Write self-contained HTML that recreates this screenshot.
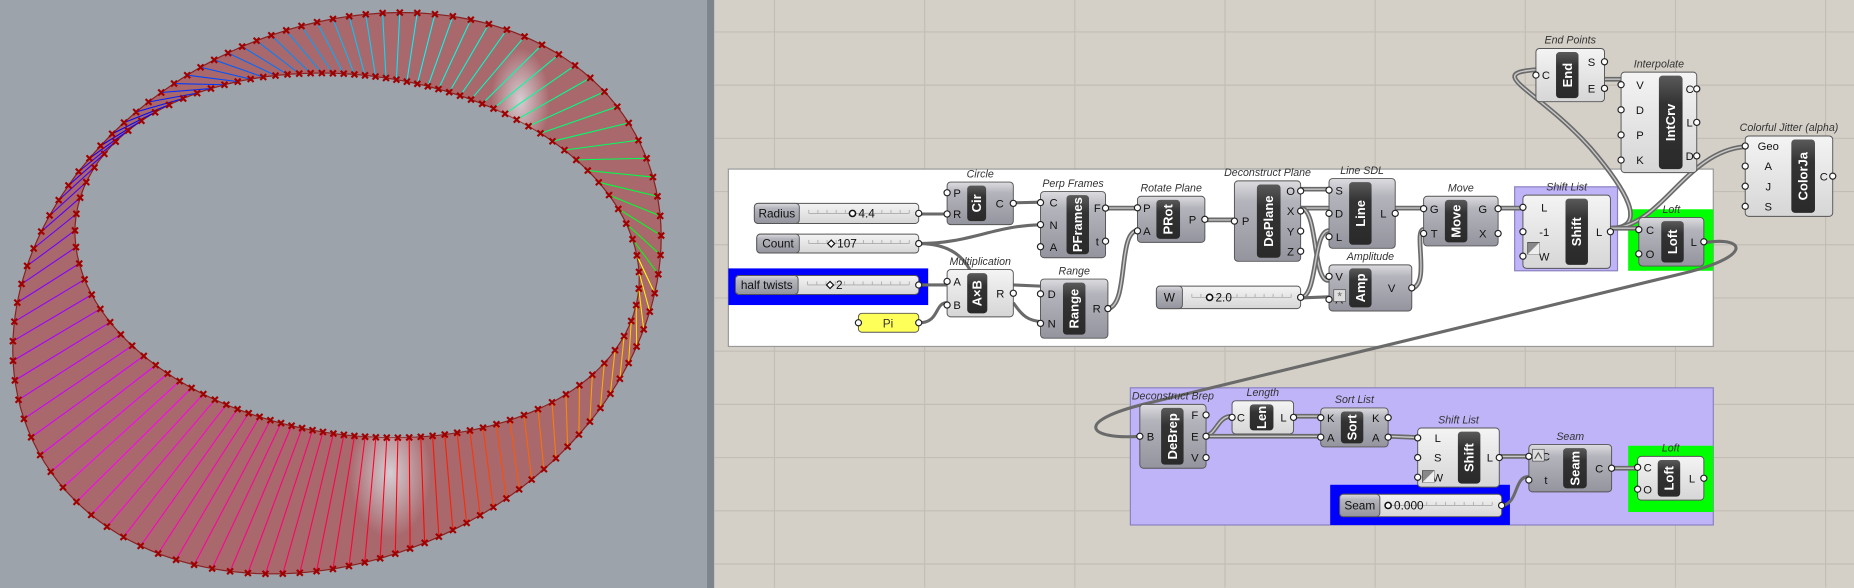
<!DOCTYPE html>
<html><head><meta charset="utf-8"><style>
html,body{margin:0;padding:0;width:1854px;height:588px;overflow:hidden;background:#d4d0c8}
svg{display:block}
text{font-family:"Liberation Sans","DejaVu Sans",sans-serif}
</style></head><body>
<svg id="s" width="1854" height="588" viewBox="0 0 1568 497.3" preserveAspectRatio="none" xmlns="http://www.w3.org/2000/svg">
<defs>
<linearGradient id="cg" x1="0" y1="0" x2="0" y2="1"><stop offset="0" stop-color="#dcdce0"/><stop offset="0.25" stop-color="#b4b4bc"/><stop offset="1" stop-color="#94949e"/></linearGradient>
<linearGradient id="lg" x1="0" y1="0" x2="0" y2="1"><stop offset="0" stop-color="#f4f4f4"/><stop offset="1" stop-color="#d6d6d6"/></linearGradient>
<linearGradient id="bg" x1="0" y1="0" x2="0" y2="1"><stop offset="0" stop-color="#5a5a5a"/><stop offset="0.3" stop-color="#333"/><stop offset="1" stop-color="#2a2a2a"/></linearGradient>
<radialGradient id="hl1" cx="0.5" cy="0.5" r="0.5"><stop offset="0" stop-color="#e0e6ec" stop-opacity="0.8"/><stop offset="1" stop-color="#e0e6ec" stop-opacity="0"/></radialGradient>
<clipPath id="bandclip"><path id="bandpath"/></clipPath>
</defs>
<rect x="0" y="0" width="603" height="497.3" fill="#9ca3ab"/>
<rect x="598" y="0" width="6" height="497.3" fill="#7e848c"/>
<g id="grid"></g>
<g id="mob"></g>
<g id="dia"></g>
</svg>
<script>
var NS="http://www.w3.org/2000/svg";
function el(p,t,a,txt){var e=document.createElementNS(NS,t);for(var k in a)e.setAttribute(k,a[k]);if(txt!==undefined)e.textContent=txt;p.appendChild(e);return e;}
var G=document.getElementById('grid');
for(var x=655;x<1568;x+=127)el(G,'line',{x1:x,y1:0,x2:x,y2:497,stroke:'#c2beb6','stroke-width':1});
for(var y=27;y<497;y+=45)el(G,'line',{x1:604,y1:y,x2:1568,y2:y,stroke:'#c2beb6','stroke-width':1});
var M=document.getElementById('mob');
var N=107;
var OE={cx:285,cy:248,a:286,b:223,p:-27*Math.PI/180};
var IE={cx:302,cy:216,a:240,b:152,p:8*Math.PI/180};
function polar(E,th){var d=th-E.p;var r=1/Math.sqrt(Math.pow(Math.cos(d)/E.a,2)+Math.pow(Math.sin(d)/E.b,2));return [E.cx+r*Math.cos(th),E.cy+r*Math.sin(th)];}
function O(t){return polar(OE,t);}
function I(t){return polar(IE,t);}
var d='';for(var i=0;i<=180;i++){var p=O(i/180*2*Math.PI);d+=(i?'L':'M')+p[0].toFixed(1)+','+p[1].toFixed(1);}d+='Z';
for(var i=0;i<=180;i++){var p=I(-i/180*2*Math.PI);d+=(i?'L':'M')+p[0].toFixed(1)+','+p[1].toFixed(1);}d+='Z';
document.getElementById('bandpath').setAttribute('d',d);
el(M,'path',{d:d,fill:'#a8686c','fill-rule':'evenodd',stroke:'#8a2020','stroke-width':1});
var hg=el(M,'g',{'clip-path':'url(#bandclip)'});
el(hg,'ellipse',{cx:330,cy:400,rx:35,ry:55,fill:'url(#hl1)'});
el(hg,'ellipse',{cx:440,cy:85,rx:25,ry:45,fill:'url(#hl1)'});
var marks='';
for(var i=0;i<N;i++){var t=i/N*2*Math.PI;var a=O(t),b=I(t);
var h=((60-t*180/Math.PI*300/360)%360+360)%360;
el(M,'line',{x1:a[0],y1:a[1],x2:b[0],y2:b[1],stroke:'hsl('+h+',100%,50%)','stroke-width':0.9});
[a,b].forEach(function(q){marks+='M'+(q[0]-2.5)+','+(q[1]-2.5)+'l5,5M'+(q[0]+2.5)+','+(q[1]-2.5)+'l-5,5';});}
el(M,'path',{d:marks,stroke:'#a00000','stroke-width':1.8,fill:'none'});
var D=document.getElementById('dia');
function R(x,y,w,h,f,s){return el(D,'rect',{x:x,y:y,width:w,height:h,fill:f,stroke:s||'none'});}
R(616,143,833,150,'#fff','#999');
R(616,227,169,31,'#0000ff');
R(1281,158,87,71,'#c0b4f8','#8a80c0');
R(1377,177,72,52,'#00ff00');
R(956,328,493,116,'#c0b4f8','#8a80c0');
R(1125,410,152,34,'#0000ff');
R(1377,377,72,56,'#00ff00');
function W(d,dbl){el(D,'path',{d:d,fill:'none',stroke:'#6a6a6a','stroke-width':dbl?4:2.6});if(dbl)el(D,'path',{d:d,fill:'none',stroke:'#c8c8c8','stroke-width':1.2});}
W('M1443,205 C1478,200 1482,218 1420,232 L975,340 C905,356 920,372 964,369');
W('M1362,193 C1395,193 1375,160 1345,125 C1300,75 1255,62 1299,59',1);
W('M1362,193 C1405,193 1425,128 1476,124',1);
W('M1362,193 L1386,193',1);
W('M777,181 L801,181');W('M835,172 L880,171');
W('M777,206 C820,206 840,191 880,190');
W('M777,206 C800,206 815,215 822,232');
W('M777,241 L801,241');W('M777,273 C795,273 790,256 801,256');
W('M857,241 L880,242');W('M857,256 C865,268 870,271 880,272');
W('M935,176 L962,176',1);W('M937,261 C955,258 945,196 962,195',1);
W('M1019,186 L1044,186',1);
W('M1100,160 L1124,160',1);W('M1100,176 L1124,176',1);
W('M1100,176 C1115,176 1110,240 1124,237',1);W('M1100,252 C1115,250 1110,195 1124,195',1);
W('M1100,252 L1124,251');
W('M1180,176 L1204,176',1);W('M1194,244 C1210,240 1195,195 1204,194',1);
W('M1267,176 L1288,176',1);
W('M1357,67 L1371,67',1);
W('M1020,369 C1030,365 1030,352 1042,352',1);W('M1020,369 L1117,369',1);
W('M1094,352 L1117,352',1);W('M1174,369 L1199,370',1);
W('M1268,386 L1293,386',1);W('M1270,428 C1285,425 1280,403 1293,403');
W('M1363,396 L1385,396',1);
function comp(x,y,w,h,lab,bx,ins,outs,title,bw,light){
 bw=bw||19;
 el(D,'rect',{x:x,y:y,width:w,height:h,rx:3,fill:light?'url(#lg)':'url(#cg)',stroke:'#555','stroke-width':0.8});
 el(D,'rect',{x:bx,y:y+3,width:bw,height:h-6,rx:3,fill:'url(#bg)'});
 var cx=bx+bw/2,cy=y+h/2;
 el(D,'text',{x:cx,y:cy,'font-size':11,'font-weight':'bold',fill:'#fff','text-anchor':'middle','dominant-baseline':'central',transform:'rotate(-90 '+cx+' '+cy+')'},lab);
 ins.forEach(function(n,i){var py=y+h*(i+0.5)/ins.length;el(D,'text',{x:(x+bx)/2,y:py+3.5,'font-size':9.5,fill:'#111','text-anchor':'middle'},n);el(D,'circle',{cx:x,cy:py,r:2.6,fill:'#fff',stroke:'#222','stroke-width':1});});
 outs.forEach(function(n,i){var py=y+h*(i+0.5)/outs.length;el(D,'text',{x:(bx+bw+x+w)/2,y:py+3.5,'font-size':9.5,fill:'#111','text-anchor':'middle'},n);el(D,'circle',{cx:x+w,cy:py,r:2.6,fill:'#fff',stroke:'#222','stroke-width':1});});
 if(title)el(D,'text',{x:x+w/2,y:y-4,'font-size':9,'font-style':'italic',fill:'#333','text-anchor':'middle'},title);
}
comp(801,154,56,36,'Cir',818,['P','R'],['C'],'Circle',16);
comp(801,228,56,40,'A×B',818,['A','B'],['R'],'Multiplication',17,1);
comp(880,162,55,56,'PFrames',902,['C','N','A'],['F','t'],'Perp Frames');
comp(880,236,57,50,'Range',899,['D','N'],['R'],'Range');
comp(962,166,57,39,'PRot',978,['P','A'],['P'],'Rotate Plane',20);
comp(1044,153,56,68,'DePlane',1063,['P'],['O','X','Y','Z'],'Deconstruct Plane',20);
comp(1124,151,56,59,'Line',1141,['S','D','L'],['L'],'Line SDL');
comp(1124,224,70,39,'Amp',1141,['V','A'],['V'],'Amplitude');
comp(1204,166,63,42,'Move',1222,['G','T'],['G','X'],'Move');
comp(1288,165,74,62,'Shift',1324,['L','-1','W'],['L'],'Shift List',19,1);
comp(1386,184,55,41,'Loft',1405,['C','O'],['L'],'Loft');
comp(1299,41,58,45,'End',1316,['C'],['S','E'],'End Points',19,1);
comp(1371,61,64,85,'IntCrv',1403,['V','D','P','K'],['C','L','D'],'Interpolate',20,1);
comp(1476,115,74,68,'ColorJa',1515,['Geo','A','J','S'],['C'],'Colorful Jitter (alpha)',20,1);
comp(964,342,56,54,'DeBrep',982,['B'],['F','E','V'],'Deconstruct Brep');
comp(1042,339,52,28,'Len',1057,['C'],['L'],'Length',20,1);
comp(1117,345,57,33,'Sort',1134,['K','A'],['K','A'],'Sort List');
comp(1199,362,69,50,'Shift',1233,['L','S','W'],['L'],'Shift List',19,1);
comp(1293,376,70,40,'Seam',1322,['C','t'],['C'],'Seam',20);
comp(1385,386,56,37,'Loft',1402,['C','O'],['L'],'Loft',19,1);
[[1292,205],[1203,398]].forEach(function(p){el(D,'rect',{x:p[0],y:p[1],width:10,height:10,fill:'#888',stroke:'#444','stroke-width':0.6});el(D,'path',{d:'M'+p[0]+','+(p[1]+10)+'l10,-10v10z',fill:'#eee'});});
el(D,'rect',{x:1128,y:245,width:10,height:10,fill:'#ddd',stroke:'#555','stroke-width':0.6});
el(D,'text',{x:1133,y:254,'font-size':10,fill:'#666','text-anchor':'middle'},'*');
el(D,'rect',{x:1296,y:380,width:10,height:10,fill:'#ddd',stroke:'#555','stroke-width':0.6});
el(D,'path',{d:'M1298,388l3,-5l3,5',stroke:'#555',fill:'none'});
function slider(x,y,w,h,lab,lw,val,knob,kind){
 el(D,'rect',{x:x,y:y,width:w,height:h,rx:3,fill:'url(#lg)',stroke:'#555','stroke-width':0.8});
 el(D,'rect',{x:x,y:y,width:lw,height:h,rx:3,fill:'url(#cg)',stroke:'#555','stroke-width':0.8});
 el(D,'text',{x:x+lw/2,y:y+h/2+3.5,'font-size':10,fill:'#111','text-anchor':'middle'},lab);
 var t='';for(var i=0;i<12;i++){var tx=x+lw+8+i*(w-lw-16)/11;t+='M'+tx+','+(y+h/2)+'v-3';}
 el(D,'path',{d:'M'+(x+lw+8)+','+(y+h/2)+'H'+(x+w-8)+t,stroke:'#aaa','stroke-width':0.7,fill:'none'});
 if(kind)el(D,'path',{d:'M'+knob+','+(y+h/2-3)+'l3,3l-3,3l-3,-3z',fill:'#fff',stroke:'#111','stroke-width':1});
 else el(D,'circle',{cx:knob,cy:y+h/2,r:2.6,fill:'#fff',stroke:'#111','stroke-width':1.3});
 el(D,'text',{x:knob+5,y:y+h/2+3.5,'font-size':10,fill:'#111'},val);
 el(D,'circle',{cx:x+w,cy:y+h/2,r:2.6,fill:'#fff',stroke:'#222','stroke-width':1});
}
slider(638,172,139,17,'Radius',38,'4.4',721,0);
slider(640,198,137,16,'Count',36,'107',703,1);
slider(622,233,155,16,'half twists',53,'2',702,1);
slider(978,242,122,19,'W',22,'2.0',1023,0);
slider(1133,418,137,19,'Seam',34,'0.000',1174,0);
el(D,'rect',{x:726,y:265,width:51,height:16,rx:3,fill:'#ffff5a',stroke:'#555','stroke-width':0.8});
el(D,'text',{x:751,y:277,'font-size':10,'font-family':'Liberation Mono, monospace',fill:'#333','text-anchor':'middle'},'Pi');
el(D,'circle',{cx:726,cy:273,r:2.6,fill:'#fff',stroke:'#222'});el(D,'circle',{cx:777,cy:273,r:2.6,fill:'#fff',stroke:'#222'});
</script>
</body></html>
